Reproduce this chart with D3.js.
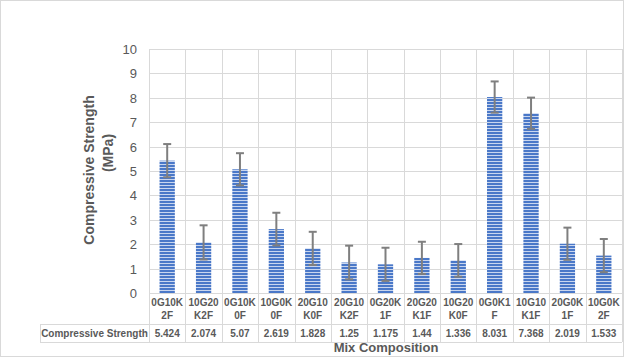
<!DOCTYPE html>
<html><head><meta charset="utf-8">
<script src="https://cdn.jsdelivr.net/npm/d3@7"></script>
<style>html,body{margin:0;padding:0;background:#fff}svg{display:block}</style>
</head><body>
<svg id="c" width="625" height="358"></svg>
<script>
const categories = ["0G10K2F","10G20K2F","0G10K0F","10G0K0F","20G10K0F","20G10K2F","0G20K1F","20G20K1F","10G20K0F","0G0K1F","10G10K1F","20G0K1F","10G0K2F"];
const values = [5.424,2.074,5.07,2.619,1.828,1.25,1.175,1.44,1.336,8.031,7.368,2.019,1.533];
const errors = [0.68,0.70,0.66,0.67,0.68,0.69,0.68,0.66,0.67,0.64,0.64,0.66,0.68];
const yTicks = [0,1,2,3,4,5,6,7,8,9,10];
const seriesName = "Compressive Strength";
const yTitle = ["Compressive Strength","(MPa)"];
const xTitle = "Mix Composition";

const svg = d3.select("#c");
const font = "'Liberation Sans', Arial, sans-serif";
const txt = "#595959", grid = "#d9d9d9";
const L = 149, R = 622, T = 49, B = 293;
const x = d3.scaleBand().domain(categories).range([L, R]).padding(0);
const y = d3.scaleLinear().domain([0, 10]).range([B, T]);

// outer border
svg.append("rect").attr("x",0.5).attr("y",0.5).attr("width",623).attr("height",356)
  .attr("fill","#fff").attr("stroke",grid);

// pattern
const defs = svg.append("defs");
const pat = defs.append("pattern").attr("id","hz").attr("patternUnits","userSpaceOnUse")
  .attr("width",6).attr("height",3);
pat.append("rect").attr("width",6).attr("height",3).attr("fill","#4a78c8");
pat.append("rect").attr("y",2).attr("width",6).attr("height",1).attr("fill","#c9d6ef");

// horizontal gridlines
svg.append("g").selectAll("line").data(yTicks).join("line")
  .attr("x1",L).attr("x2",R).attr("y1",d=>Math.round(y(d))+0.5).attr("y2",d=>Math.round(y(d))+0.5)
  .attr("stroke",grid);

// vertical lines (grid + table)
const tRow1 = 324, tBot = 342, tLeft = 40;
const bounds = categories.map(c=>x(c)).concat([R]);
svg.append("g").selectAll("line").data(bounds).join("line")
  .attr("x1",d=>Math.round(d)+0.5).attr("x2",d=>Math.round(d)+0.5)
  .attr("y1",T).attr("y2",tBot).attr("stroke",grid);
// table horizontals
svg.append("line").attr("x1",tLeft).attr("x2",R).attr("y1",tRow1+0.5).attr("y2",tRow1+0.5).attr("stroke",grid);
svg.append("line").attr("x1",tLeft).attr("x2",R).attr("y1",tBot+0.5).attr("y2",tBot+0.5).attr("stroke",grid);
svg.append("line").attr("x1",tLeft+0.5).attr("x2",tLeft+0.5).attr("y1",tRow1).attr("y2",tBot).attr("stroke",grid);

// y tick labels
svg.append("g").selectAll("text").data(yTicks).join("text")
  .attr("x",137).attr("y",d=>y(d)+5).attr("text-anchor","end")
  .attr("font-family",font).attr("font-size",13).attr("fill",txt).text(d=>d);

// bars
const bw = x.bandwidth()*0.42;
svg.append("g").selectAll("rect").data(categories).join("rect")
  .attr("x",(d)=>x(d)+(x.bandwidth()-bw)/2).attr("width",bw)
  .attr("y",(d,i)=>y(values[i])).attr("height",(d,i)=>y(0)-y(values[i]))
  .attr("fill","url(#hz)");

// error bars
const eg = svg.append("g").attr("stroke","#7f7f7f").attr("stroke-width",2);
categories.forEach((c,i)=>{
  const cx = x(c)+x.bandwidth()/2;
  const y1 = y(values[i]+errors[i]), y2 = y(values[i]-errors[i]);
  eg.append("line").attr("x1",cx).attr("x2",cx).attr("y1",y1).attr("y2",y2);
  eg.append("line").attr("x1",cx-4).attr("x2",cx+4).attr("y1",y1).attr("y2",y1);
  eg.append("line").attr("x1",cx-4).attr("x2",cx+4).attr("y1",y2).attr("y2",y2);
});

// category labels (two lines)
const cg = svg.append("g").attr("font-family",font).attr("font-size",10).attr("font-weight","bold").attr("fill",txt).attr("text-anchor","middle");
categories.forEach(c=>{
  const cx = x(c)+x.bandwidth()/2;
  cg.append("text").attr("x",cx).attr("y",306).text(c.slice(0,5));
  cg.append("text").attr("x",cx).attr("y",319).text(c.slice(5));
});
// data row
categories.forEach((c,i)=>{
  cg.append("text").attr("x",x(c)+x.bandwidth()/2).attr("y",337).text(String(values[i]));
});
svg.append("text").attr("x",(tLeft+L)/2).attr("y",337).attr("text-anchor","middle")
  .attr("font-family",font).attr("font-size",10).attr("font-weight","bold").attr("fill",txt).text(seriesName);

// axis titles
svg.append("text").attr("transform","translate(94,170) rotate(-90)").attr("text-anchor","middle")
  .attr("font-family",font).attr("font-size",14).attr("font-weight","bold").attr("fill",txt).text(yTitle[0]);
svg.append("text").attr("transform","translate(113,153) rotate(-90)").attr("text-anchor","middle")
  .attr("font-family",font).attr("font-size",14).attr("font-weight","bold").attr("fill",txt).text(yTitle[1]);
svg.append("text").attr("x",386).attr("y",352).attr("text-anchor","middle")
  .attr("font-family",font).attr("font-size",13).attr("font-weight","bold").attr("fill",txt).text(xTitle);
</script>
</body></html>
